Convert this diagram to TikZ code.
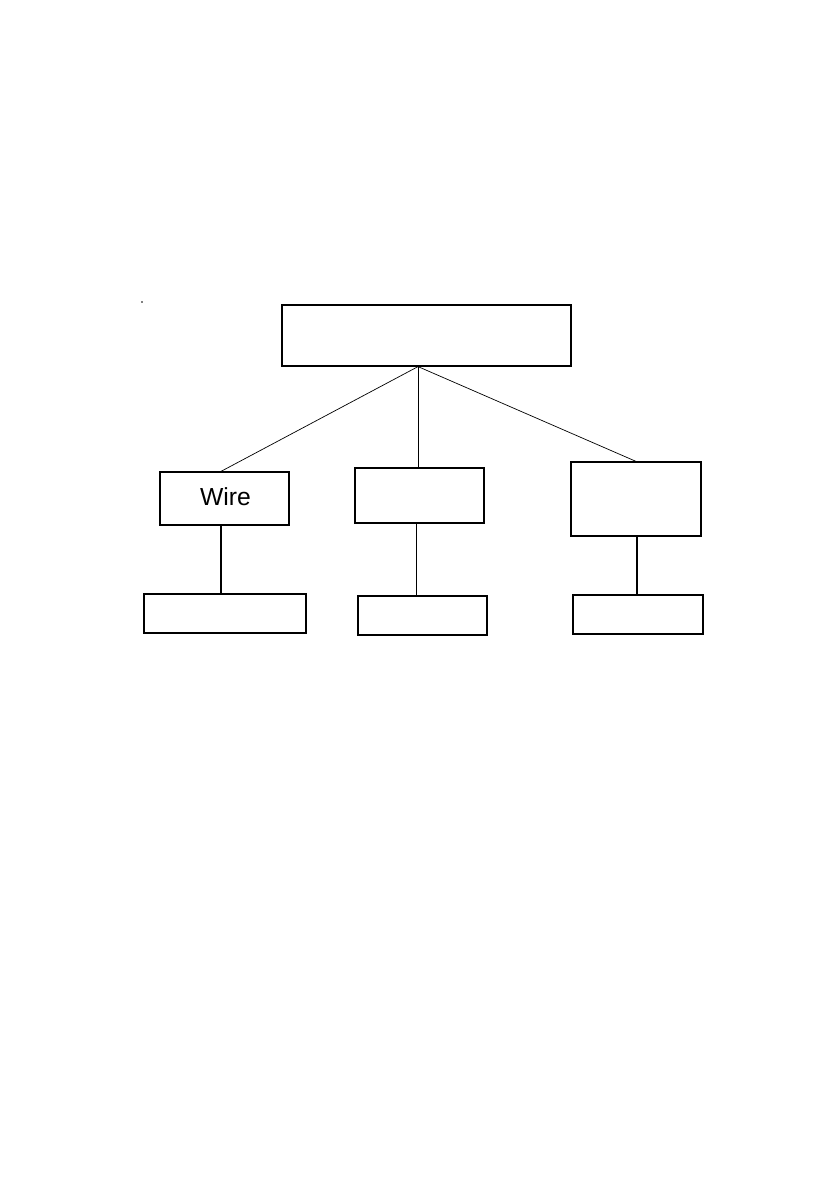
\documentclass[tikz,border=0pt]{standalone}
\usepackage{fontspec}
\setmainfont{Liberation Sans}
\begin{document}
\begin{tikzpicture}[x=0.709pt,y=-0.709pt,
  box/.style={draw,line width=0.85pt,rectangle,inner sep=0pt},
  thin/.style={line width=0.5pt},
  link/.style={line width=0.75pt}]
\useasboundingbox (0,0) rectangle (839,1191);
\fill (142,302) circle (0.6pt);
\node[box,minimum width=204.9pt,minimum height=43.25pt] (top) at (426.5,335.5) {};
\node[box,minimum width=91.46pt,minimum height=37.58pt] (wire) at (224.5,498.5) {};
\node[font=\fontsize{17.5}{20}\selectfont,inner sep=0pt] (wiretext) at (225.5,497) {Wire};
\node[box,minimum width=91.46pt,minimum height=39.0pt] (mid) at (419.5,495.5) {};
\node[box,minimum width=92.17pt,minimum height=52.47pt] (right) at (636,499) {};
\node[box,minimum width=114.86pt,minimum height=27.65pt] (bl) at (225,613.5) {};
\node[box,minimum width=91.46pt,minimum height=27.65pt] (bm) at (422.5,615.5) {};
\node[box,minimum width=92.17pt,minimum height=27.65pt] (br) at (638,614.5) {};
\coordinate (apex) at ([xshift=-6pt]top.south);
\draw[thin] (apex) -- ([xshift=-2.5pt]wire.north);
\draw[thin] (apex) -- (apex |- mid.north);
\draw[thin] (apex) -- (right.north);
\draw[link] ([xshift=-2.5pt]wire.south) -- ([xshift=-2.5pt]wire.south |- bl.north);
\draw[link] ([xshift=-1.8pt]mid.south) -- ([xshift=-1.8pt]mid.south |- bm.north);
\draw[link] ([xshift=0.7pt]right.south) -- ([xshift=0.7pt]right.south |- br.north);
\end{tikzpicture}
\end{document}
